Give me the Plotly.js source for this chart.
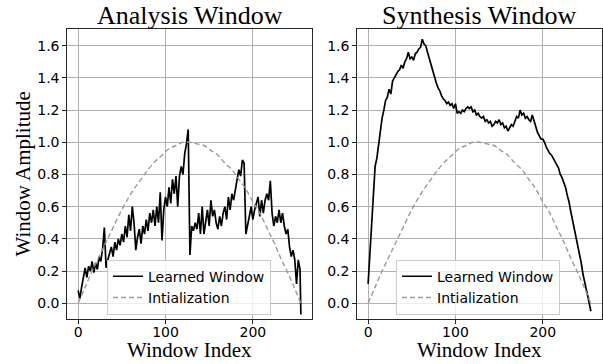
<!DOCTYPE html>
<html>
<head>
<meta charset="utf-8">
<script src="https://cdn.plot.ly/plotly-3.0.1.min.js"></script>
<style>html,body{margin:0;padding:0;background:#fff;}#chart{width:603px;height:364px;}</style>
</head>
<body>
<div id="chart"></div>
<script>
// ---- data ----
const panelTitles = ["Analysis Window", "Synthesis Window"];
const xTitle = "Window Index";
const yTitle = "Window Amplitude";
const seriesNames = ["Learned Window", "Intialization"];

const sampleIndex = [
  0,2,4,6,8,10,12,14,
  16,18,20,22,24,26,28,30,
  32,34,36,38,40,42,44,46,
  48,50,52,54,56,58,60,62,
  64,66,68,70,72,74,76,78,
  80,82,84,86,88,90,92,94,
  96,98,100,102,104,106,108,110,
  112,114,116,118,120,122,124,126,
  128,130,132,134,136,138,140,142,
  144,146,148,150,152,154,156,158,
  160,162,164,166,168,170,172,174,
  176,178,180,182,184,186,188,190,
  192,194,196,198,200,202,204,206,
  208,210,212,214,216,218,220,222,
  224,226,228,230,232,234,236,238,
  240,242,244,246,248,250,252,254,
  255
];

const analysisLearned = [
  0.08,0.03,0.10,0.15,0.22,0.16,0.23,0.20,
  0.26,0.19,0.25,0.21,0.29,0.26,0.34,0.47,
  0.22,0.27,0.31,0.35,0.29,0.38,0.33,0.40,
  0.36,0.43,0.38,0.48,0.41,0.55,0.45,0.60,
  0.50,0.33,0.41,0.46,0.37,0.48,0.43,0.52,
  0.45,0.56,0.50,0.58,0.48,0.60,0.50,0.69,
  0.39,0.58,0.66,0.60,0.72,0.62,0.77,0.68,
  0.79,0.60,0.79,0.85,0.80,0.93,0.99,1.08,
  0.30,0.48,0.45,0.50,0.46,0.56,0.43,0.60,
  0.43,0.52,0.58,0.48,0.64,0.54,0.58,0.50,
  0.46,0.54,0.48,0.56,0.60,0.52,0.66,0.58,
  0.68,0.64,0.72,0.77,0.83,0.79,0.89,0.87,
  0.43,0.50,0.54,0.60,0.52,0.58,0.62,0.66,
  0.54,0.64,0.56,0.64,0.68,0.64,0.76,0.56,
  0.48,0.54,0.50,0.58,0.50,0.56,0.48,0.43,
  0.46,0.35,0.29,0.33,0.27,0.12,0.27,0.21,
  -0.07
];

const synthesisLearned = [
  0.12,0.30,0.48,0.65,0.85,0.90,0.99,1.07,
  1.15,1.20,1.26,1.28,1.33,1.30,1.38,1.40,
  1.42,1.44,1.45,1.48,1.46,1.50,1.52,1.56,
  1.52,1.53,1.51,1.55,1.56,1.58,1.59,1.64,
  1.61,1.60,1.56,1.52,1.49,1.45,1.41,1.37,
  1.34,1.32,1.29,1.27,1.26,1.24,1.25,1.23,
  1.24,1.21,1.24,1.18,1.19,1.18,1.20,1.19,
  1.21,1.22,1.21,1.22,1.19,1.20,1.17,1.18,
  1.16,1.15,1.16,1.13,1.14,1.12,1.13,1.10,
  1.11,1.13,1.12,1.14,1.11,1.12,1.09,1.10,
  1.07,1.09,1.11,1.10,1.13,1.16,1.15,1.20,
  1.17,1.18,1.15,1.16,1.14,1.13,1.17,1.13,
  1.10,1.06,1.04,1.02,1.02,1.00,0.97,0.95,
  0.93,0.92,0.90,0.88,0.86,0.84,0.80,0.78,
  0.75,0.72,0.67,0.63,0.57,0.52,0.47,0.41,
  0.35,0.30,0.25,0.18,0.12,0.08,0.03,-0.02,
  -0.05
];

const initIndex = [0,8,16,24,32,40,48,56,64,72,80,88,96,104,112,120,128,
                   136,144,152,160,168,176,184,192,200,208,216,224,232,240,248,255];
const initValues = [0.00,0.10,0.20,0.29,0.38,0.47,0.56,0.64,0.71,0.77,0.83,0.88,0.92,0.96,0.98,1.00,1.00,
                    0.99,0.98,0.95,0.92,0.87,0.83,0.77,0.71,0.63,0.56,0.47,0.38,0.28,0.19,0.09,0.00];

const xTickVals = [0, 100, 200];
const yTickVals = [0.0, 0.2, 0.4, 0.6, 0.8, 1.0, 1.2, 1.4, 1.6];

// ---- traces ----
const learnedStyle = {color: '#000000', width: 1.7};
const initStyle = {color: '#9a9a9a', width: 1.4, dash: '5px,3px', shape: 'spline'};

const traces = [
  {x: sampleIndex, y: analysisLearned, type: 'scatter', mode: 'lines', name: seriesNames[0],
   line: learnedStyle, xaxis: 'x', yaxis: 'y', legend: 'legend'},
  {x: initIndex, y: initValues, type: 'scatter', mode: 'lines', name: seriesNames[1],
   line: initStyle, xaxis: 'x', yaxis: 'y', legend: 'legend'},
  {x: sampleIndex, y: synthesisLearned, type: 'scatter', mode: 'lines', name: seriesNames[0],
   line: learnedStyle, xaxis: 'x2', yaxis: 'y2', legend: 'legend2'},
  {x: initIndex, y: initValues, type: 'scatter', mode: 'lines', name: seriesNames[1],
   line: initStyle, xaxis: 'x2', yaxis: 'y2', legend: 'legend2'}
];

const tickFont = {family: 'DejaVu Sans', size: 14, color: '#000'};
function xAxis(domain, anchor) {
  return {domain: domain, anchor: anchor, range: [-12.75, 267.75], tickvals: xTickVals,
    showgrid: true, gridcolor: '#b0b0b0', gridwidth: 1, zeroline: false,
    showline: true, mirror: true, linecolor: '#262626', linewidth: 1.2,
    ticks: 'outside', ticklen: 3.5, tickwidth: 1, tickcolor: '#262626', tickfont: tickFont,
    ticklabelstandoff: -4};
}
function yAxis(anchor) {
  return {domain: [0, 1], anchor: anchor, range: [-0.098, 1.704], tickvals: yTickVals,
    tickformat: '.1f',
    showgrid: true, gridcolor: '#b0b0b0', gridwidth: 1, zeroline: false,
    showline: true, mirror: true, linecolor: '#262626', linewidth: 1.2,
    ticks: 'outside', ticklen: 3.5, tickwidth: 1, tickcolor: '#262626', tickfont: tickFont};
}
function legendBox(x) {
  return {x: x, y: 0.015, xanchor: 'left', yanchor: 'bottom',
    bgcolor: 'rgba(255,255,255,0.8)', bordercolor: '#cccccc', borderwidth: 1,
    font: {family: 'DejaVu Sans', size: 14, color: '#000'}, tracegroupgap: 0, itemwidth: 30};
}

const serif = 'Liberation Serif, Times New Roman, serif';
const leftDom = [0, 0.458], rightDom = [0.542, 1];
const layout = {
  width: 603, height: 364,
  margin: {l: 67, r: 1, t: 29, b: 45, pad: 0},
  paper_bgcolor: '#ffffff', plot_bgcolor: '#ffffff',
  showlegend: true,
  xaxis: xAxis(leftDom, 'y'),
  yaxis: yAxis('x'),
  xaxis2: xAxis(rightDom, 'y2'),
  yaxis2: yAxis('x2'),
  legend: legendBox(0.0748),
  legend2: legendBox(0.615),
  annotations: [
    {text: panelTitles[0], xref: 'paper', yref: 'paper', x: (leftDom[0] + leftDom[1]) / 2, y: 1,
     xanchor: 'center', yanchor: 'bottom', yshift: -3, showarrow: false,
     font: {family: serif, size: 26, color: '#000'}},
    {text: panelTitles[1], xref: 'paper', yref: 'paper', x: (rightDom[0] + rightDom[1]) / 2, y: 1,
     xanchor: 'center', yanchor: 'bottom', yshift: -3, showarrow: false,
     font: {family: serif, size: 26, color: '#000'}},
    {text: xTitle, xref: 'paper', yref: 'paper', x: (leftDom[0] + leftDom[1]) / 2, y: -0.108,
     xanchor: 'center', yanchor: 'middle', showarrow: false,
     font: {family: serif, size: 21, color: '#000'}},
    {text: xTitle, xref: 'paper', yref: 'paper', x: (rightDom[0] + rightDom[1]) / 2, y: -0.108,
     xanchor: 'center', yanchor: 'middle', showarrow: false,
     font: {family: serif, size: 21, color: '#000'}},
    {text: yTitle, xref: 'paper', yref: 'paper', x: -0.083, y: 0.5,
     xanchor: 'center', yanchor: 'middle', textangle: -90, showarrow: false,
     font: {family: serif, size: 21, color: '#000'}}
  ]
};

Plotly.newPlot('chart', traces, layout, {displayModeBar: false, staticPlot: true});
</script>
</body>
</html>
